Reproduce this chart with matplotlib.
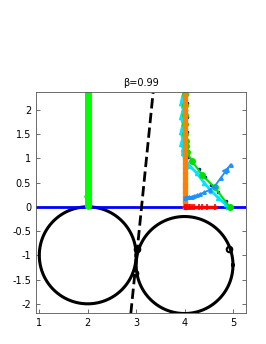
import numpy as np
import matplotlib.pyplot as plt

# circles (centre x, centre y, radius)
circ_cx = [2.0, 4.0]
circ_cy = [-1.0, -1.2]
circ_r = [1.0, 1.0]

# dashed separating line
sep_x = [2.89, 3.35]
sep_y = [-2.2, 2.35]
# black markers on the circles
dot_x = [3.02, 2.98, 4.92]
dot_y = [-0.86, -1.36, -0.86]

# green path at x=2
g2_x = [2.0, 2.0]
g2_y = [2.35, 0.02]

# orange (squares)
or_x = [4.0] * 24
or_y = [2.3, 2.2, 2.1, 2.0, 1.9, 1.8, 1.7, 1.6, 1.5, 1.4, 1.3, 1.2,
        1.1, 1.0, 0.9, 0.8, 0.7, 0.6, 0.5, 0.4, 0.3, 0.2, 0.1, 0.0]

# red (plus)
rd_x = [4.0, 4.03, 4.06, 4.09, 4.12, 4.16, 4.2, 4.29, 4.37, 4.46, 4.62]
rd_y = [0.0] * 11

# light blue (triangles)
lb_x = [4.0, 4.05, 4.1, 4.15, 4.2, 4.26, 4.32, 4.41, 4.52, 4.62, 4.75, 4.87, 4.95]
lb_y = [0.19, 0.2, 0.2, 0.21, 0.22, 0.24, 0.26, 0.3, 0.35, 0.42, 0.6, 0.76, 0.87]

# cyan (triangles)
cy_x = [3.97, 3.93, 3.97, 3.93, 3.97, 3.93, 3.96, 3.93, 3.97, 3.96, 4.0, 4.03,
        4.1, 4.25, 4.4, 4.55, 4.7, 4.85, 4.9]
cy_y = [2.3, 2.15, 2.0, 1.85, 1.7, 1.55, 1.4, 1.3, 1.2, 1.1, 1.0, 0.95,
        0.85, 0.7, 0.5, 0.33, 0.18, 0.05, 0.0]

# dark blue (dots)
db_x = [4.03, 4.05, 4.03, 4.05, 4.03, 4.05, 4.03, 4.05, 4.04, 4.08, 4.15,
        4.3, 4.42, 4.55, 4.7, 4.85, 4.93]
db_y = [2.3, 2.15, 2.0, 1.85, 1.7, 1.55, 1.4, 1.25, 1.12, 1.02, 0.92,
        0.78, 0.62, 0.45, 0.3, 0.12, 0.02]

# green (circles)
gr_x = [4.0, 4.0, 4.0, 4.01, 4.01, 4.02, 4.03, 4.05, 4.15, 4.36, 4.62, 4.93]
gr_y = [2.33, 2.1, 1.9, 1.7, 1.5, 1.35, 1.25, 1.12, 0.95, 0.66, 0.40, 0.0]

fig = plt.figure(figsize=(2.66, 3.44), dpi=100)
ax = fig.add_axes([0.135, 0.09, 0.79, 0.643])

t = np.linspace(0, 2 * np.pi, 300)
for cx, cy, r in zip(circ_cx, circ_cy, circ_r):
    ax.plot(cx + r * np.cos(t), cy + r * np.sin(t), color='k', lw=2.2)

ax.axhline(0, color='#0000ff', lw=2, zorder=2)
ax.plot(sep_x, sep_y, 'k--', lw=2)
ax.plot(dot_x, dot_y, 'o', mfc='none', mec='k', ms=4, mew=1.5)

ax.plot(g2_x, g2_y, color='#00ff00', lw=5, solid_capstyle='round')
ax.annotate('', xy=(2.0, 0.0), xytext=(2.0, 0.15),
            arrowprops=dict(arrowstyle='-|>', color='#00ff00', lw=2, mutation_scale=8))

ax.plot(cy_x, cy_y, '-^', color='#00e5ff', ms=3, lw=2)
ax.plot(db_x, db_y, '.', color='#0000cc', ms=3)
ax.plot(gr_x, gr_y, '-o', color='#00e000', ms=4, lw=1.5)
ax.plot(or_x, or_y, '-s', color='#ff8000', ms=3, lw=1.5)
ax.plot(rd_x, rd_y, '-+', color='#ff0000', ms=5, lw=2.5, mew=1.2)
ax.plot(lb_x, lb_y, '-^', color='#1e90ff', ms=2.5, lw=1.3)
ax.annotate('', xy=(lb_x[-1], lb_y[-1]), xytext=(lb_x[-2], lb_y[-2]),
            arrowprops=dict(arrowstyle='-|>', color='#1e90ff', lw=1.2, mutation_scale=9,
                            fc='none'))

ax.set_xlim(0.93, 5.27)
ax.set_ylim(-2.19, 2.37)
ax.set_xticks([1, 2, 3, 4, 5])
ax.set_yticks([-2, -1.5, -1, -0.5, 0, 0.5, 1, 1.5, 2])
ax.set_yticklabels(['-2', '-1.5', '-1', '-0.5', '0', '0.5', '1', '1.5', '2'])
ax.tick_params(direction='in', labelsize=7, length=3, right=True, top=False,
               color='#555555', width=0.6)
for s in ax.spines.values():
    s.set_color('#555555')
    s.set_linewidth(0.6)
ax.set_title('β=0.99', fontsize=7, pad=4)

fig.savefig('out.png', dpi=100)
